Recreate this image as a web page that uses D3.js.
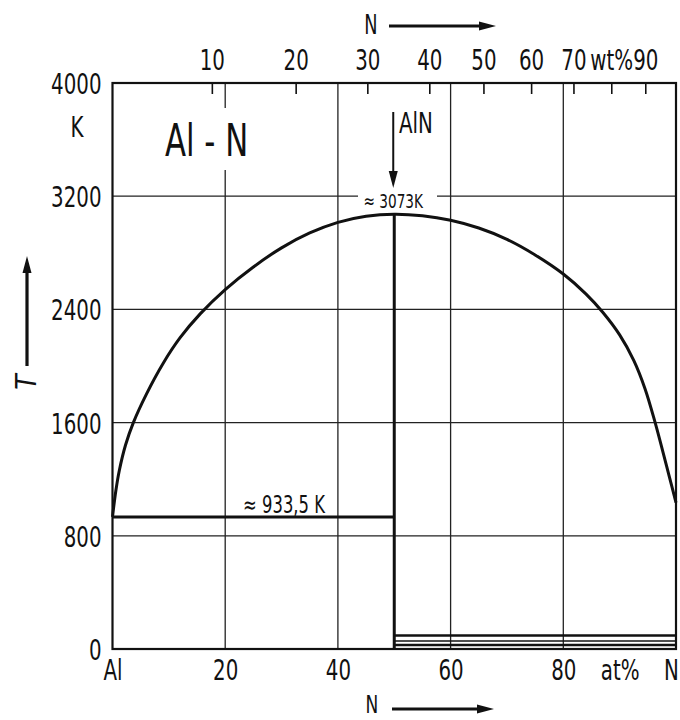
<!DOCTYPE html>
<html>
<head>
<meta charset="utf-8">
<script src="https://cdn.jsdelivr.net/npm/d3@7"></script>
<style>
  html, body { margin: 0; padding: 0; background: #fff; }
  svg text {
    font-family: "DejaVu Sans Condensed", "DejaVu Sans", sans-serif;
    font-stretch: condensed;
    fill: #111;
  }
</style>
</head>
<body>
<svg id="chart" width="680" height="720"></svg>
<script>
// Al–N phase diagram: temperature vs. nitrogen content

// bottom axis: atomic percent N
const atTicks = [0, 20, 40, 60, 80, 90, 100];
const atLabels = ["Al", "20", "40", "60", "80", "at%", "N"];
const atGrid = [20, 40, 60, 80];

// top axis: weight percent N
const wtTicks = [10, 20, 30, 40, 50, 60, 70, 80, 90];
const wtLabels = ["10", "20", "30", "40", "50", "60", "70", "wt%", "90"];

// temperature axis (K)
const tTicks = [0, 800, 1600, 2400, 3200, 4000];
const tGrid = [800, 1600, 2400, 3200];

// liquidus, Al side up to the AlN maximum
const liqLeftAt = [0, 0.6, 1.2, 2.3, 3.7, 6, 9, 12, 15.6, 20, 25, 30, 35, 40, 45, 50];
const liqLeftT  = [933.5, 1120, 1260, 1440, 1600, 1800, 2020, 2200, 2370, 2540, 2700, 2835, 2940, 3015, 3058, 3073];
// liquidus, N side
const liqRightAt = [50, 55, 60, 65, 70, 75, 80, 84, 87, 90, 92.5, 94.5, 96.3, 97.7, 98.8, 100];
const liqRightT  = [3073, 3062, 3030, 2975, 2895, 2785, 2650, 2510, 2380, 2220, 2040, 1840, 1600, 1390, 1220, 1035];

// invariant lines
const eutecticT = 933.5;     // Al melting / eutectic
const alnAt = 50;            // AlN line compound
const alnMaxT = 3073;
const lowLinesT = [95, 57, 28]; // low-temperature horizontals on the N side

// atomic masses for the wt% ↔ at% conversion
const M_N = 14.007, M_Al = 26.982;
const atFromWt = w => 100 * (w / M_N) / (w / M_N + (100 - w) / M_Al);

// narrow lettering, in the style of engineering stencil text
const SX = 0.76;

const svg = d3.select("#chart");
const x = d3.scaleLinear().domain([0, 100]).range([112.5, 676]);
const y = d3.scaleLinear().domain([0, 4000]).range([649, 83]);

// piecewise-linear scale that places wt% values at their at% positions
const wtDomain = [0].concat(wtTicks, [100]);
const xWt = d3.scaleLinear().domain(wtDomain).range(wtDomain.map(w => x(atFromWt(w))));

const [x0, x1] = x.range();
const [yb, yt] = y.range();

function label(px, py, txt, size, anchor = "start", extra = "") {
  return svg.append("text")
    .attr("transform", `translate(${px},${py}) ${extra} scale(${SX},1)`)
    .attr("text-anchor", anchor)
    .attr("font-size", size)
    .text(txt);
}

// grid lines
const grid = svg.append("g").attr("stroke", "#222").attr("stroke-width", 1.3).attr("fill", "none");
atGrid.forEach(v => {
  if (v === 20) {
    // broken around the system label
    grid.append("line").attr("x1", x(v)).attr("x2", x(v)).attr("y1", yt).attr("y2", 108);
    grid.append("line").attr("x1", x(v)).attr("x2", x(v)).attr("y1", 170).attr("y2", yb);
  } else {
    grid.append("line").attr("x1", x(v)).attr("x2", x(v)).attr("y1", yt).attr("y2", yb);
  }
});
tGrid.forEach(v => {
  if (v === 3200) {
    // broken around the maximum temperature label
    grid.append("line").attr("x1", x0).attr("x2", 358).attr("y1", y(v)).attr("y2", y(v));
    grid.append("line").attr("x1", 437).attr("x2", x1).attr("y1", y(v)).attr("y2", y(v));
  } else {
    grid.append("line").attr("x1", x0).attr("x2", x1).attr("y1", y(v)).attr("y2", y(v));
  }
});

// frame
svg.append("rect")
  .attr("x", x0).attr("y", yt).attr("width", x1 - x0).attr("height", yb - yt)
  .attr("fill", "none").attr("stroke", "#111").attr("stroke-width", 2.2);

// axes
const fontAxis = 29;
const bottomAxis = d3.axisBottom(x).tickValues(atTicks)
  .tickFormat((d, i) => atLabels[i]).tickSize(0).tickPadding(10);
const gB = svg.append("g").attr("transform", `translate(0,${yb})`).call(bottomAxis);
gB.select(".domain").remove();
gB.selectAll("text").attr("font-size", fontAxis).attr("transform", `scale(${SX},1)`)
  .attr("x", d => d === 100 ? -5 / SX : 0);

const topAxis = d3.axisTop(xWt).tickValues(wtTicks)
  .tickFormat((d, i) => wtLabels[i]).tickSizeInner(-11).tickSizeOuter(0).tickPadding(13);
const gT = svg.append("g").attr("transform", `translate(0,${yt})`).call(topAxis);
gT.select(".domain").remove();
gT.selectAll(".tick line").attr("stroke", "#111").attr("stroke-width", 1.6);
gT.selectAll("text").attr("font-size", fontAxis).attr("transform", `scale(${SX},1)`);

const leftAxis = d3.axisLeft(y).tickValues(tTicks).tickSize(0).tickPadding(10).tickFormat(d3.format("d"));
const gL = svg.append("g").attr("transform", `translate(${x0},0)`).call(leftAxis);
gL.select(".domain").remove();
gL.selectAll("text").attr("font-size", fontAxis).attr("dy", "0.36em")
  .attr("x", -11 / SX).attr("transform", `scale(${SX},1)`);
svg.selectAll(".tick text").attr("fill", "#111");

// unit K under 4000
label(77, 137, "K", fontAxis, "middle");

// phase boundaries
const line = d3.line().x(d => x(d[0])).y(d => y(d[1])).curve(d3.curveCatmullRom.alpha(0.5));
const liquidus = liqLeftAt.map((a, i) => [a, liqLeftT[i]])
  .concat(liqRightAt.slice(1).map((a, i) => [a, liqRightT[i + 1]]));
svg.append("path").datum(liquidus).attr("d", line)
  .attr("fill", "none").attr("stroke", "#111").attr("stroke-width", 3);

svg.append("line").attr("x1", x(0)).attr("x2", x(alnAt))
  .attr("y1", y(eutecticT)).attr("y2", y(eutecticT))
  .attr("stroke", "#111").attr("stroke-width", 3);

svg.append("line").attr("x1", x(alnAt)).attr("x2", x(alnAt))
  .attr("y1", y(alnMaxT)).attr("y2", y(0))
  .attr("stroke", "#111").attr("stroke-width", 3);

lowLinesT.forEach((t, i) => {
  svg.append("line").attr("x1", x(alnAt)).attr("x2", x(100))
    .attr("y1", y(t)).attr("y2", y(t))
    .attr("stroke", "#111").attr("stroke-width", i === 1 ? 1.6 : 2.6);
});

// labels
label(165, 156, "Al - N", 45);
label(399, 133, "AlN", 29);
label(x(alnAt) - 1, 208, "≈ 3073K", 20, "middle");
label(284, 513, "≈ 933,5 K", 24, "middle");

// arrow helper
function arrow(xa, ya, xb, yb2, w) {
  const g = svg.append("g");
  const ang = Math.atan2(yb2 - ya, xb - xa);
  const L = 17, H = 4.5;
  const bx = xb - L * Math.cos(ang), by = yb2 - L * Math.sin(ang);
  g.append("line").attr("x1", xa).attr("y1", ya).attr("x2", bx).attr("y2", by)
    .attr("stroke", "#111").attr("stroke-width", w);
  const px = -Math.sin(ang) * H, py = Math.cos(ang) * H;
  g.append("path")
    .attr("d", `M${xb},${yb2}L${bx + px},${by + py}L${bx - px},${by - py}Z`)
    .attr("fill", "#111");
}
arrow(x(alnAt) - 1, 112, x(alnAt) - 1, 188, 2);
arrow(389, 26, 496, 26, 3);
arrow(392, 709, 494, 709, 3);
arrow(27, 366, 27, 256, 3.2);

// axis titles
label(371, 34, "N", 26, "middle");
label(372, 713, "N", 25, "middle");
svg.append("text").attr("transform", "translate(36,382) rotate(-90)")
  .attr("text-anchor", "middle").attr("font-size", 28).attr("font-style", "italic").text("T");
</script>
</body>
</html>
